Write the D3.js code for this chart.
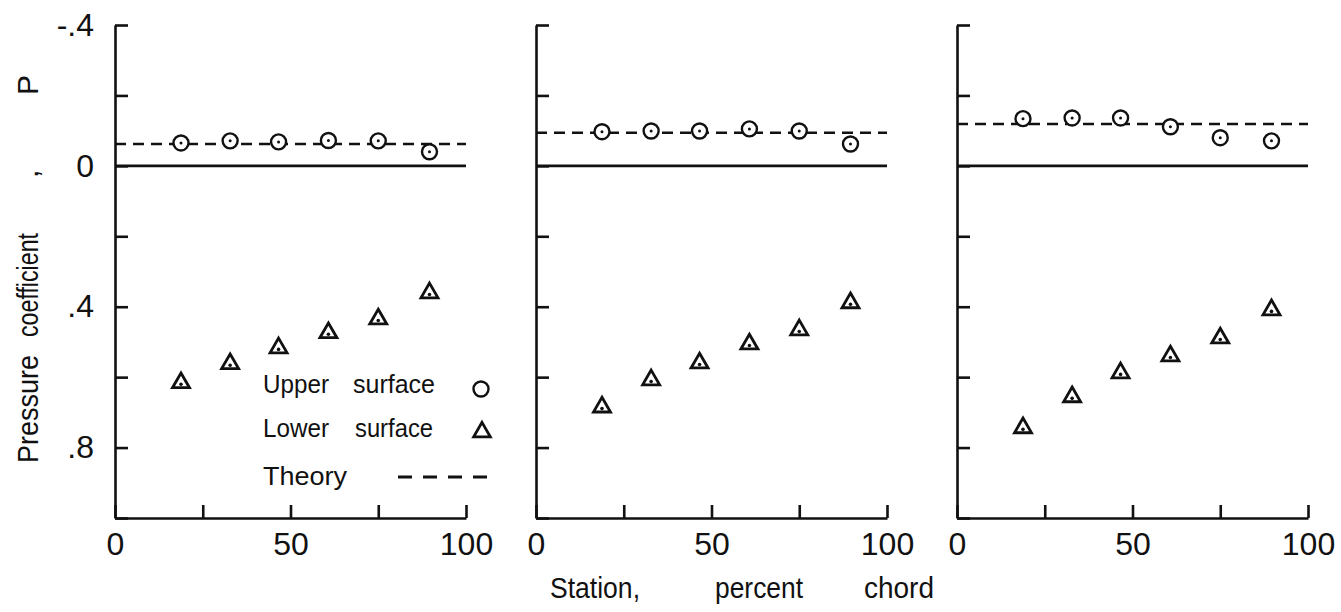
<!DOCTYPE html>
<html>
<head>
<meta charset="utf-8">
<script src="https://cdn.jsdelivr.net/npm/d3@7"></script>
<style>
  html, body { margin: 0; padding: 0; background: #fff; }
  svg { display: block; font-family: "Liberation Sans", Arial, sans-serif; }
</style>
</head>
<body>
<svg id="chart" width="1341" height="612"></svg>
<script>
// ---- data ----
const stations = [18.8, 32.8, 46.6, 60.8, 75.0, 89.6];
const upper1 = [-0.065, -0.071, -0.068, -0.072, -0.071, -0.040];
const lower1 = [0.616, 0.562, 0.517, 0.474, 0.435, 0.361];
const upper2 = [-0.097, -0.099, -0.099, -0.105, -0.099, -0.062];
const lower2 = [0.685, 0.608, 0.560, 0.506, 0.466, 0.389];
const upper3 = [-0.134, -0.136, -0.136, -0.111, -0.080, -0.071];
const lower3 = [0.744, 0.656, 0.588, 0.540, 0.489, 0.409];
const theory = [-0.062, -0.094, -0.119];
const yTicks = [-0.4, -0.2, 0, 0.2, 0.4, 0.6, 0.8, 1.0];
const yTickLabels = {"-0.4": "-.4", "0": "0", "0.4": ".4", "0.8": ".8"};
const xTicks = [0, 25, 50, 75, 100];
const xTickLabels = {"0": "0", "50": "50", "100": "100"};
const legendItems = [["Upper", "surface"], ["Lower", "surface"], ["Theory"]];

const panels = [
  {upper: upper1, lower: lower1, theory: theory[0]},
  {upper: upper2, lower: lower2, theory: theory[1]},
  {upper: upper3, lower: lower3, theory: theory[2]}
];

// ---- layout ----
const svg = d3.select("#chart");
const panelLeft = [115, 536, 957];
const panelW = 351;
const yTop = 25, yBot = 518;
const ink = "#111";
const sw = 2.6;

const y = d3.scaleLinear().domain([-0.4, 1.0]).range([yTop, yBot]);

panels.forEach((p, i) => {
  const x = d3.scaleLinear().domain([0, 100]).range([panelLeft[i], panelLeft[i] + panelW]);
  const g = svg.append("g");

  // y axis
  const ya = d3.axisLeft(y).tickValues(yTicks).tickSizeInner(-13).tickSizeOuter(0).tickPadding(21)
    .tickFormat(d => i === 0 ? (yTickLabels[String(Math.round(d * 10) / 10)] || "") : "");
  const gy = g.append("g").attr("transform", `translate(${panelLeft[i]},0)`).call(ya);
  gy.selectAll("path, line").attr("stroke", ink).attr("stroke-width", sw);
  gy.selectAll("text").attr("font-size", 32).attr("fill", ink);

  // x axis
  const xa = d3.axisBottom(x).tickValues(xTicks).tickSizeInner(-13).tickSizeOuter(0).tickPadding(14)
    .tickFormat(d => xTickLabels[String(d)] || "");
  const gx = g.append("g").attr("transform", `translate(0,${yBot})`).call(xa);
  gx.selectAll("path, line").attr("stroke", ink).attr("stroke-width", sw);
  gx.selectAll("text").attr("font-size", 32).attr("fill", ink);

  // zero line
  g.append("line")
    .attr("x1", x(0)).attr("x2", x(100)).attr("y1", y(0)).attr("y2", y(0))
    .attr("stroke", ink).attr("stroke-width", sw);

  // theory dashed line
  g.append("line")
    .attr("x1", x(0)).attr("x2", x(100)).attr("y1", y(p.theory)).attr("y2", y(p.theory))
    .attr("stroke", ink).attr("stroke-width", sw).attr("stroke-dasharray", "11,7");

  // upper surface circles
  const up = g.selectAll(".up").data(stations.map((s, k) => [s, p.upper[k]])).enter().append("g")
    .attr("transform", d => `translate(${x(d[0])},${y(d[1])})`);
  up.append("circle").attr("r", 7.5).attr("fill", "#fff").attr("stroke", ink).attr("stroke-width", 2.4);
  up.append("circle").attr("r", 1.5).attr("fill", ink);

  // lower surface triangles
  const tri = d3.symbol().type(d3.symbolTriangle).size(125);
  const lo = g.selectAll(".lo").data(stations.map((s, k) => [s, p.lower[k]])).enter().append("g")
    .attr("transform", d => `translate(${x(d[0])},${y(d[1])})`);
  lo.append("path").attr("d", tri()).attr("fill", "#fff").attr("stroke", ink).attr("stroke-width", 2.8)
    .attr("stroke-linejoin", "miter");
  lo.append("circle").attr("r", 1.8).attr("cy", 1.5).attr("fill", ink);
});

// ---- legend (panel 1) ----
const leg = svg.append("g").attr("font-size", 26).attr("fill", ink);
const legBase = [393, 437, 485];
const wordX = [[263, 353], [263, 355], [263]];
const wordLen = [[66, 82], [66, 78], [84]];
legendItems.forEach((words, k) => {
  const t = leg.append("text").attr("y", legBase[k]);
  words.forEach((w, j) => {
    t.append("tspan").attr("x", wordX[k][j]).attr("y", legBase[k])
      .attr("textLength", wordLen[k][j]).attr("lengthAdjust", "spacingAndGlyphs").text(w);
  });
});
leg.append("circle").attr("cx", 481).attr("cy", 389).attr("r", 7.5)
  .attr("fill", "#fff").attr("stroke", ink).attr("stroke-width", 2.4);
leg.append("path").attr("d", d3.symbol().type(d3.symbolTriangle).size(120)())
  .attr("transform", "translate(482,432)").attr("fill", "#fff").attr("stroke", ink).attr("stroke-width", 2.8);
leg.append("line").attr("x1", 398).attr("x2", 489).attr("y1", 477).attr("y2", 477)
  .attr("stroke", ink).attr("stroke-width", 2.8).attr("stroke-dasharray", "14,11");

// ---- axis titles ----
const yt = svg.append("text").attr("transform", "rotate(-90)").attr("font-size", 30).attr("fill", ink);
yt.append("tspan").attr("x", -463).attr("y", 38).attr("textLength", 108).attr("lengthAdjust", "spacingAndGlyphs").text("Pressure");
yt.append("tspan").attr("x", -337).attr("y", 38).attr("textLength", 104).attr("lengthAdjust", "spacingAndGlyphs").text("coefficient");
yt.append("tspan").attr("x", -178).attr("y", 38).text(",");
yt.append("tspan").attr("x", -95).attr("y", 38).text("P");

const xt = svg.append("text").attr("font-size", 29).attr("fill", ink);
xt.append("tspan").attr("x", 550).attr("y", 598).attr("textLength", 90).attr("lengthAdjust", "spacingAndGlyphs").text("Station,");
xt.append("tspan").attr("x", 715).attr("y", 598).attr("textLength", 88).attr("lengthAdjust", "spacingAndGlyphs").text("percent");
xt.append("tspan").attr("x", 864).attr("y", 598).attr("textLength", 70).attr("lengthAdjust", "spacingAndGlyphs").text("chord");
</script>
</body>
</html>
